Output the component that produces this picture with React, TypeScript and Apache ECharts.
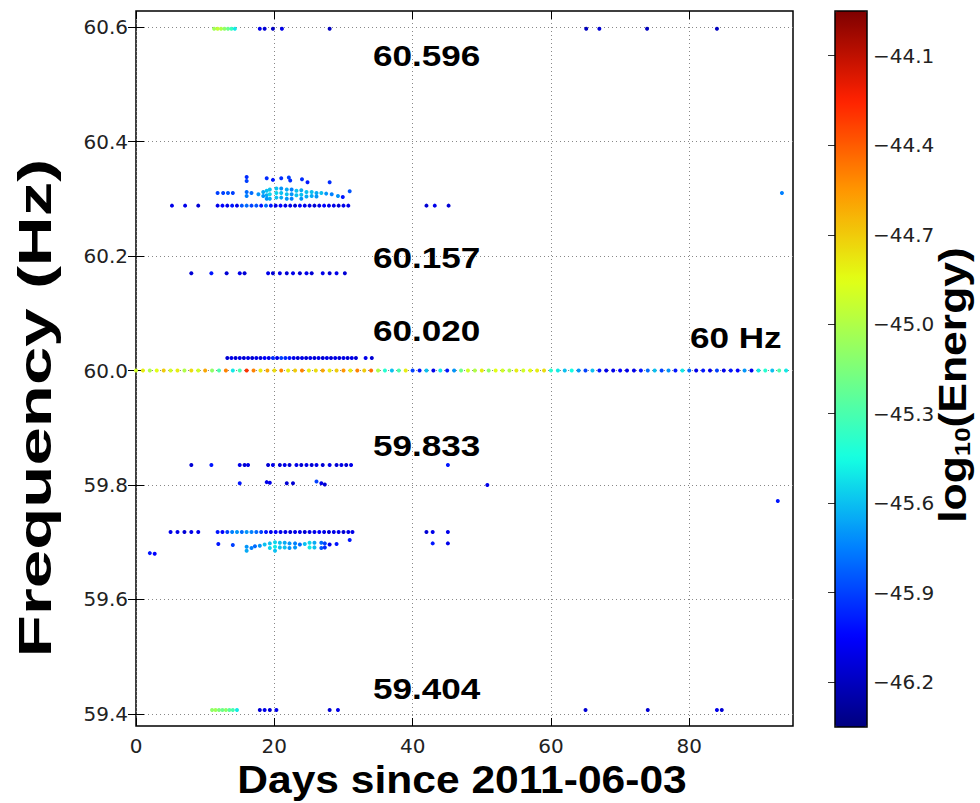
import React, { useEffect, useRef } from "react";
import * as echarts from "echarts";

// ---------- axes / scales ----------
const xTicks = [0, 20, 40, 60, 80];
const yTicks = [59.4, 59.6, 59.8, 60.0, 60.2, 60.4, 60.6];
const energyTicks = [-46.2, -45.9, -45.6, -45.3, -45.0, -44.7, -44.4, -44.1];
const xRange = [0, 95];
const yRange = [59.379, 60.628];
const energyRange = [-46.35, -43.95];
const jetColors = ["#00007f", "#0000ff", "#0080ff", "#15ffe2", "#7dff7a", "#e2ff15", "#ff9600", "#ff2100", "#7f0000"];

// ---------- annotations ----------
const annotationTexts = ["60.596", "60.157", "60.020", "59.833", "59.404", "60 Hz"];

// ---------- data rows: [days], single frequency, [log10 energy] ----------
const row60596Freq = 60.597;
const row60596Days = [11.3, 11.8, 12.3, 12.8, 13.3, 13.8, 14.3, 17.9, 18.6, 19.8, 21.1, 28.0, 65.1, 67.0, 73.9, 84.0];
const row60596Energy = [-45.05, -44.95, -45.0, -45.1, -45.2, -45.35, -45.5, -46.1, -46.15, -46.2, -46.1, -46.2, -46.2, -46.15, -46.2, -46.2];

const row60288Freq = 60.288;
const row60288Days = [5.2, 7.1, 9.0, 11.8, 12.5, 13.2, 13.9, 14.6, 15.3, 16.0, 16.7, 17.4, 18.1, 18.8, 19.5, 20.2, 20.9, 21.6, 22.3, 23.0, 23.7, 24.4, 25.1, 25.8, 26.5, 27.2, 27.9, 28.6, 29.3, 30.0, 30.7, 42.0, 43.2, 45.2];
const row60288Energy = [-46.1, -46.1, -46.15, -46.1, -46.05, -46.1, -46.0, -46.1, -45.85, -45.8, -45.9, -45.85, -46.0, -45.8, -46.0, -46.1, -46.05, -46.1, -46.1, -46.15, -46.05, -46.1, -46.1, -46.15, -46.1, -46.05, -46.1, -46.1, -46.15, -46.1, -46.1, -46.15, -46.1, -46.15];

const row60170Freq = 60.17;
const row60170Days = [8.0, 10.9, 13.1, 15.0, 15.7, 19.1, 19.8, 20.8, 21.8, 22.7, 23.7, 24.65, 25.4, 27.0, 28.0, 29.0, 30.2];
const row60170Energy = [-46.15, -46.0, -46.15, -46.1, -46.15, -46.1, -46.15, -46.1, -46.15, -46.1, -46.15, -46.1, -46.15, -46.1, -46.15, -46.1, -46.15];

const row60022Freq = 60.022;
const row60022Days = [13.2, 13.8, 14.4, 15.0, 15.6, 16.2, 16.8, 17.4, 18.0, 18.6, 19.2, 19.8, 20.4, 21.0, 21.6, 22.2, 22.8, 23.4, 24.0, 24.6, 25.2, 25.8, 26.4, 27.0, 27.6, 28.2, 28.8, 29.4, 30.0, 30.6, 31.2, 31.8, 33.2, 34.1];
const row60022Energy = [-46.15, -46.1, -46.15, -46.1, -46.15, -46.1, -46.15, -46.1, -46.15, -46.05, -46.1, -45.95, -46.1, -45.9, -45.95, -46.0, -46.1, -46.15, -46.1, -46.15, -46.1, -46.15, -46.1, -46.15, -46.1, -46.15, -46.1, -46.15, -46.1, -46.15, -46.1, -46.15, -46.1, -46.15];

const row60000Freq = 60.0;
const row60000Days = [0, 1, 2, 3, 4, 5, 6, 7, 8, 9, 10, 11, 12, 13, 14, 15, 16, 17, 18, 19, 20, 21, 22, 23, 24, 25, 26, 27, 28, 29, 30, 31, 32, 33, 34, 35, 36, 37, 38, 39, 40, 41, 42, 43, 44, 45, 46, 47, 48, 49, 50, 51, 52, 53, 54, 55, 56, 57, 58, 59, 60, 61, 62, 63, 64, 65, 66, 67, 68, 69, 70, 71, 72, 73, 74, 75, 76, 77, 78, 79, 80, 81, 82, 83, 84, 85, 86, 87, 88, 89, 90, 91, 92, 93, 94];
const row60000Energy = [
  -44.9, -44.8, -45.0, -44.85, -44.7, -44.9, -44.8, -45.0, -44.75, -44.9,
  -44.6, -45.1, -45.3, -44.5, -45.5, -45.3, -44.3, -44.5, -44.8, -44.6,
  -44.75, -44.5, -44.8, -44.7, -44.5, -44.8, -44.75, -44.6, -44.8, -44.7,
  -44.55, -44.8, -44.5, -44.7, -44.45, -45.0, -45.4, -45.6, -45.3, -44.8,
  -45.9, -46.0, -45.6, -46.1, -45.5, -46.0, -45.7, -45.2, -44.9, -45.0,
  -44.8, -45.1, -44.85, -44.9, -45.0, -44.8, -44.9, -44.85, -44.8, -44.75,
  -45.4, -45.5, -45.6, -45.45, -45.7, -45.9, -45.6, -46.0, -46.1, -46.1,
  -46.05, -46.1, -46.1, -46.0, -45.8, -45.6, -45.9, -45.7, -46.0, -45.5,
  -45.8, -46.1, -46.0, -46.1, -45.9, -46.1, -46.0, -46.05, -45.7, -46.1,
  -45.5, -45.4, -45.6, -45.3, -45.5,
];

const row59835Freq = 59.835;
const row59835Days = [8.0, 10.9, 15.0, 15.7, 16.2, 19.1, 19.8, 20.8, 21.5, 22.2, 23.2, 23.9, 24.65, 25.4, 26.1, 27.0, 28.0, 29.0, 29.7, 30.4, 31.1, 45.1];
const row59835Energy = [-46.15, -46.0, -46.1, -46.15, -46.1, -46.15, -46.1, -46.15, -46.1, -46.15, -46.1, -46.15, -46.1, -46.15, -46.1, -46.15, -46.1, -46.15, -46.1, -46.15, -46.1, -46.0];

const row59718Freq = 59.718;
const row59718Days = [5.0, 6.0, 7.0, 8.0, 9.0, 11.8, 12.5, 13.2, 13.9, 14.6, 15.3, 16.0, 16.7, 17.4, 18.1, 18.8, 19.5, 20.2, 20.9, 21.6, 22.3, 23.0, 23.7, 24.4, 25.1, 25.8, 26.5, 27.2, 27.9, 28.6, 29.3, 30.0, 30.7, 31.3, 42.0, 42.9, 45.1];
const row59718Energy = [-46.1, -46.1, -46.15, -46.1, -46.1, -46.0, -46.05, -45.9, -45.75, -45.7, -45.8, -45.7, -45.75, -45.8, -45.9, -46.0, -46.1, -46.05, -46.1, -46.1, -46.15, -46.1, -46.1, -46.15, -46.1, -46.1, -46.05, -46.1, -46.15, -46.1, -46.1, -46.15, -46.1, -46.1, -46.15, -46.1, -46.1];

const row59407Freq = 59.407;
const row59407Days = [11.0, 11.5, 12.0, 12.5, 13.0, 13.5, 14.0, 14.6, 17.9, 18.6, 19.35, 20.3, 28.0, 29.2, 65.0, 74.0, 84.0, 84.7];
const row59407Energy = [-45.1, -45.05, -45.15, -45.2, -45.1, -45.25, -45.3, -45.5, -46.15, -46.1, -46.15, -46.1, -46.15, -46.1, -46.15, -46.15, -46.1, -46.15];

// ---------- scattered clusters: [day, frequency, log10 energy] ----------
const upperCluster = [
  [11.8, 60.31, -45.9], [12.6, 60.31, -45.9], [13.3, 60.31, -45.85], [14.0, 60.31, -45.9],
  [16.0, 60.338, -45.95], [16.0, 60.331, -45.9], [16.0, 60.312, -45.8], [16.0, 60.305, -45.75],
  [16.7, 60.31, -45.8], [17.7, 60.308, -45.7],
  [18.4, 60.312, -45.65], [18.4, 60.305, -45.7],
  [18.9, 60.336, -45.95], [18.9, 60.314, -45.6], [18.9, 60.306, -45.65], [18.9, 60.3, -45.7],
  [19.35, 60.316, -45.6], [19.35, 60.308, -45.55], [19.35, 60.3, -45.65],
  [19.8, 60.333, -46.0],
  [20.3, 60.318, -45.6], [20.3, 60.31, -45.55], [20.3, 60.302, -45.6],
  [21.0, 60.336, -45.95], [21.0, 60.318, -45.7], [21.0, 60.31, -45.6], [21.0, 60.302, -45.65],
  [21.8, 60.316, -45.65], [21.8, 60.308, -45.6], [21.8, 60.3, -45.7],
  [22.1, 60.337, -45.9], [22.3, 60.332, -45.95],
  [22.5, 60.316, -45.75], [22.5, 60.308, -45.7], [22.5, 60.3, -45.75],
  [23.2, 60.314, -45.6], [23.2, 60.306, -45.6],
  [23.9, 60.315, -45.65], [23.9, 60.307, -45.6], [23.9, 60.3, -45.7],
  [24.0, 60.334, -45.95],
  [24.65, 60.312, -45.6], [24.65, 60.304, -45.65],
  [24.8, 60.329, -46.0],
  [25.4, 60.312, -45.6], [25.4, 60.305, -45.65],
  [26.1, 60.31, -45.65], [26.1, 60.304, -45.7],
  [26.8, 60.31, -45.6], [27.5, 60.309, -45.7],
  [28.0, 60.329, -45.95], [28.3, 60.308, -45.75],
  [29.2, 60.305, -45.7], [29.9, 60.303, -46.0], [30.9, 60.313, -45.85],
  [93.4, 60.31, -45.75],
];

const near598Cluster = [
  [15.0, 59.803, -46.0], [18.9, 59.805, -46.1], [19.35, 59.804, -46.1],
  [21.8, 59.803, -46.15], [22.7, 59.803, -46.15], [26.1, 59.806, -45.9],
  [26.8, 59.803, -46.1], [27.3, 59.801, -46.15], [50.8, 59.8, -46.1], [92.8, 59.772, -46.0],
];

const lowerCluster = [
  [11.9, 59.697, -46.0], [14.0, 59.695, -45.9],
  [16.0, 59.692, -45.7], [16.0, 59.685, -45.65], [16.7, 59.69, -45.75], [17.2, 59.693, -45.8],
  [17.9, 59.694, -45.7], [18.6, 59.696, -45.6],
  [19.35, 59.698, -45.6], [19.35, 59.69, -45.55],
  [20.1, 59.7, -45.55], [20.1, 59.692, -45.5], [20.1, 59.685, -45.6],
  [20.8, 59.699, -45.6], [20.8, 59.691, -45.6],
  [21.5, 59.699, -45.65], [21.5, 59.691, -45.6],
  [22.2, 59.698, -45.7], [22.2, 59.69, -45.7],
  [23.0, 59.698, -45.75], [23.0, 59.691, -45.7],
  [23.7, 59.696, -45.8], [24.4, 59.697, -45.6],
  [25.1, 59.699, -45.55], [25.1, 59.691, -45.5],
  [25.8, 59.699, -45.65], [25.8, 59.691, -45.6],
  [26.8, 59.699, -45.8], [26.8, 59.69, -45.85],
  [27.3, 59.698, -45.9], [27.3, 59.691, -45.95],
  [28.0, 59.696, -46.1], [29.0, 59.697, -46.0], [30.9, 59.704, -46.0],
  [42.9, 59.698, -46.0], [45.1, 59.698, -46.1],
];

const row59681 = [[2.0, 59.681, -46.0], [2.7, 59.68, -46.05]];

function buildPoints(): number[][] {
  const pts: number[][] = [];
  const addRow = (days: number[], freq: number, energy: number[]) =>
    days.forEach((d, i) => pts.push([d, freq, energy[i]]));
  addRow(row60596Days, row60596Freq, row60596Energy);
  addRow(row60288Days, row60288Freq, row60288Energy);
  addRow(row60170Days, row60170Freq, row60170Energy);
  addRow(row60022Days, row60022Freq, row60022Energy);
  addRow(row60000Days, row60000Freq, row60000Energy);
  addRow(row59835Days, row59835Freq, row59835Energy);
  addRow(row59718Days, row59718Freq, row59718Energy);
  addRow(row59407Days, row59407Freq, row59407Energy);
  [upperCluster, near598Cluster, lowerCluster, row59681].forEach((c) => c.forEach((p) => pts.push(p)));
  return pts;
}

const SANS_BOLD = "'Liberation Sans', Arial, sans-serif";
const TICK_FONT = "'DejaVu Sans', sans-serif";

export default function App() {
  const ref = useRef<HTMLDivElement>(null);
  useEffect(() => {
    if (!ref.current) return;
    const chart = echarts.init(ref.current, null, { renderer: "svg" });
    const tickLabel = { fontFamily: TICK_FONT, fontSize: 20, color: "#222" };
    const annoPos = [
      [373, 55], [373, 257], [373, 330], [373, 445], [373, 688], [690, 337],
    ];
    const option: any = {
      animation: false,
      backgroundColor: "#fff",
      grid: [
        { left: 136, top: 11, width: 657, height: 715, show: true, borderColor: "#000", borderWidth: 1.5, backgroundColor: "transparent" },
        { left: 835, top: 11, width: 32, height: 716, show: false },
      ],
      xAxis: [
        {
          gridIndex: 0, type: "value", min: xRange[0], max: xRange[1], position: "bottom",
          axisLine: { show: false },
          axisTick: { show: true, inside: true, length: 8, customValues: xTicks, lineStyle: { color: "#000", width: 1 } },
          axisLabel: { ...tickLabel, margin: 10, customValues: xTicks, formatter: (v: number) => String(Math.round(v)) },
          splitLine: { show: true, lineStyle: { color: "#888", type: [1, 3], width: 1 } },
        },
        {
          gridIndex: 0, type: "value", min: xRange[0], max: xRange[1], position: "top",
          axisLine: { show: false },
          axisTick: { show: true, inside: true, length: 8, customValues: xTicks, lineStyle: { color: "#000", width: 1 } },
          axisLabel: { show: false }, splitLine: { show: false },
        },
        { gridIndex: 1, type: "value", min: 0, max: 1, show: false },
      ],
      yAxis: [
        {
          gridIndex: 0, type: "value", min: yRange[0], max: yRange[1], position: "left",
          axisLine: { show: false },
          axisTick: { show: true, inside: true, length: 8, customValues: yTicks, lineStyle: { color: "#000", width: 1 } },
          axisLabel: { ...tickLabel, margin: 8, customValues: yTicks, formatter: (v: number) => v.toFixed(1) },
          splitLine: { show: true, lineStyle: { color: "#888", type: [1, 3], width: 1 } },
        },
        {
          gridIndex: 0, type: "value", min: yRange[0], max: yRange[1], position: "right",
          axisLine: { show: false },
          axisTick: { show: true, inside: true, length: 8, customValues: yTicks, lineStyle: { color: "#000", width: 1 } },
          axisLabel: { show: false }, splitLine: { show: false },
        },
        {
          gridIndex: 1, type: "value", min: energyRange[0], max: energyRange[1], position: "right",
          axisLine: { show: false },
          axisTick: { show: true, inside: true, length: 7, customValues: energyTicks, lineStyle: { color: "#333", width: 1 } },
          axisLabel: { ...tickLabel, margin: 6, customValues: energyTicks, formatter: (v: number) => "\u2212" + Math.abs(v).toFixed(1) },
          splitLine: { show: false },
        },
      ],
      visualMap: {
        type: "continuous",
        min: energyRange[0], max: energyRange[1],
        dimension: 2, seriesIndex: 0,
        inRange: { color: jetColors },
        calculable: false, show: true, hoverLink: false,
        orient: "vertical", left: 835, top: 11, itemWidth: 32, itemHeight: 716, padding: 0,
      },
      series: [
        {
          type: "scatter", xAxisIndex: 0, yAxisIndex: 0,
          data: buildPoints(), symbol: "circle", symbolSize: 4, silent: true,
          itemStyle: { opacity: 1 },
        },
      ],
      graphic: [
        { type: "rect", z: 100, shape: { x: 835, y: 11, width: 32, height: 716 }, style: { fill: "none", stroke: "#000", lineWidth: 1.5 } },
        ...annotationTexts.map((t, i) => ({
          type: "text", z: 100, x: annoPos[i][0], y: annoPos[i][1], scaleX: 1.17,
          style: { text: t, fontFamily: SANS_BOLD, fontWeight: "bold", fontSize: 30, fill: "#000", textAlign: "left", textVerticalAlign: "middle" },
        })),
        {
          type: "text", z: 100, x: 35, y: 408, rotation: Math.PI / 2, scaleX: 1.5,
          style: { text: "Frequency (Hz)", fontFamily: SANS_BOLD, fontWeight: "bold", fontSize: 46, fill: "#000", textAlign: "center", textVerticalAlign: "middle" },
        },
        {
          type: "text", z: 100, x: 462, y: 780, scaleX: 1.12,
          style: { text: "Days since 2011-06-03", fontFamily: SANS_BOLD, fontWeight: "bold", fontSize: 38, fill: "#000", textAlign: "center", textVerticalAlign: "middle" },
        },
        {
          type: "text", z: 100, x: 953, y: 385, rotation: Math.PI / 2, scaleX: 1.17,
          style: {
            text: "{a|log}{b|10}{a|(Energy)}", textAlign: "center", textVerticalAlign: "middle",
            rich: {
              a: { fontFamily: SANS_BOLD, fontWeight: "bold", fontSize: 38, fill: "#000", lineHeight: 40 },
              b: { fontFamily: SANS_BOLD, fontWeight: "bold", fontSize: 22, fill: "#000", lineHeight: 22, verticalAlign: "bottom" },
            },
          },
        },
      ],
    };
    chart.setOption(option);
    return () => chart.dispose();
  }, []);
  return <div ref={ref} style={{ position: "fixed", left: 0, top: 0, width: 980, height: 803 }} />;
}
